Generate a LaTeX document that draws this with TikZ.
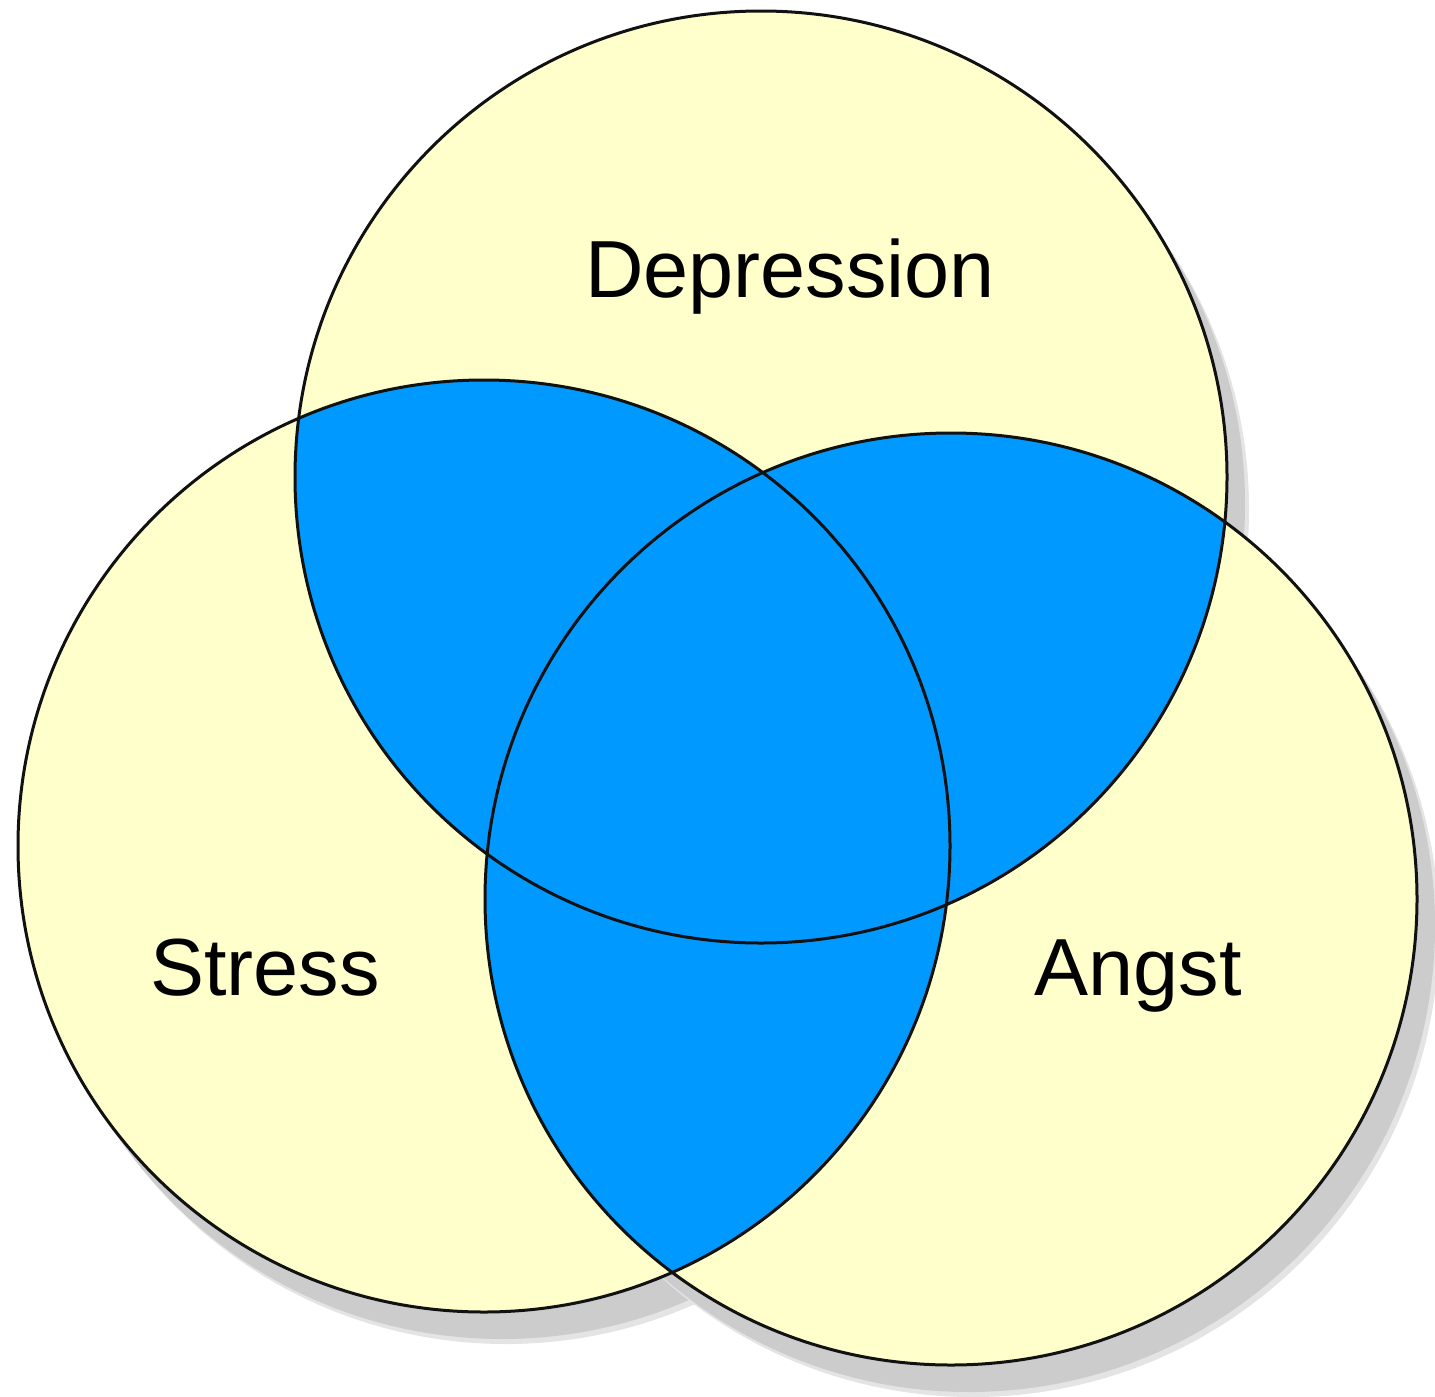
\documentclass[tikz,border=0pt]{standalone}
\usepackage{fontspec}
\setmainfont{Liberation Sans}
\definecolor{vyellow}{HTML}{FFFFCC}
\definecolor{vblue}{HTML}{0099FF}
\definecolor{vshadow}{HTML}{CCCCCC}
\definecolor{vshadowlight}{HTML}{E4E4E4}
\definecolor{vline}{HTML}{111111}
\tikzset{
  shadowfill/.style={fill=vshadow, draw=none},
  shadowsoft/.style={fill=vshadowlight, draw=none},
  setfill/.style={fill=vyellow, draw=none},
  overlapfill/.style={fill=vblue, draw=none},
  setline/.style={draw=vline, line width=1.5pt},
  setlabel/.style={anchor=base, font=\fontsize{40.5}{48}\selectfont, text=black, inner sep=0pt}
}
\begin{document}
\begin{tikzpicture}[x=0.5pt,y=-0.5pt]
\useasboundingbox (0,0) rectangle (1435,1397);
\coordinate (top) at (761,477);
\coordinate (left) at (484,846);
\coordinate (right) at (951,899);
\def\R{233pt}
% shadows
\foreach \c in {top,left,right}{
  \fill[shadowsoft] ([shift={(22,32)}]\c) circle[radius=\R];
  \fill[shadowfill] ([shift={(18,27)}]\c) circle[radius=\R];
}
% yellow sets
\foreach \c in {top,left,right}{
  \fill[setfill] (\c) circle[radius=\R];
}
% pairwise overlaps in blue
\begin{scope}
  \clip (top) circle[radius=\R];
  \fill[overlapfill] (left) circle[radius=\R];
  \fill[overlapfill] (right) circle[radius=\R];
\end{scope}
\begin{scope}
  \clip (left) circle[radius=\R];
  \fill[overlapfill] (right) circle[radius=\R];
\end{scope}
% outlines
\foreach \c in {top,left,right}{
  \draw[setline] (\c) circle[radius=\R];
}
% labels
\node[setlabel] (depression) at (790,297) {Depression};
\node[setlabel] (stress) at (265,995) {Stress};
\node[setlabel] (angst) at (1138,995) {Angst};
\end{tikzpicture}
\end{document}
